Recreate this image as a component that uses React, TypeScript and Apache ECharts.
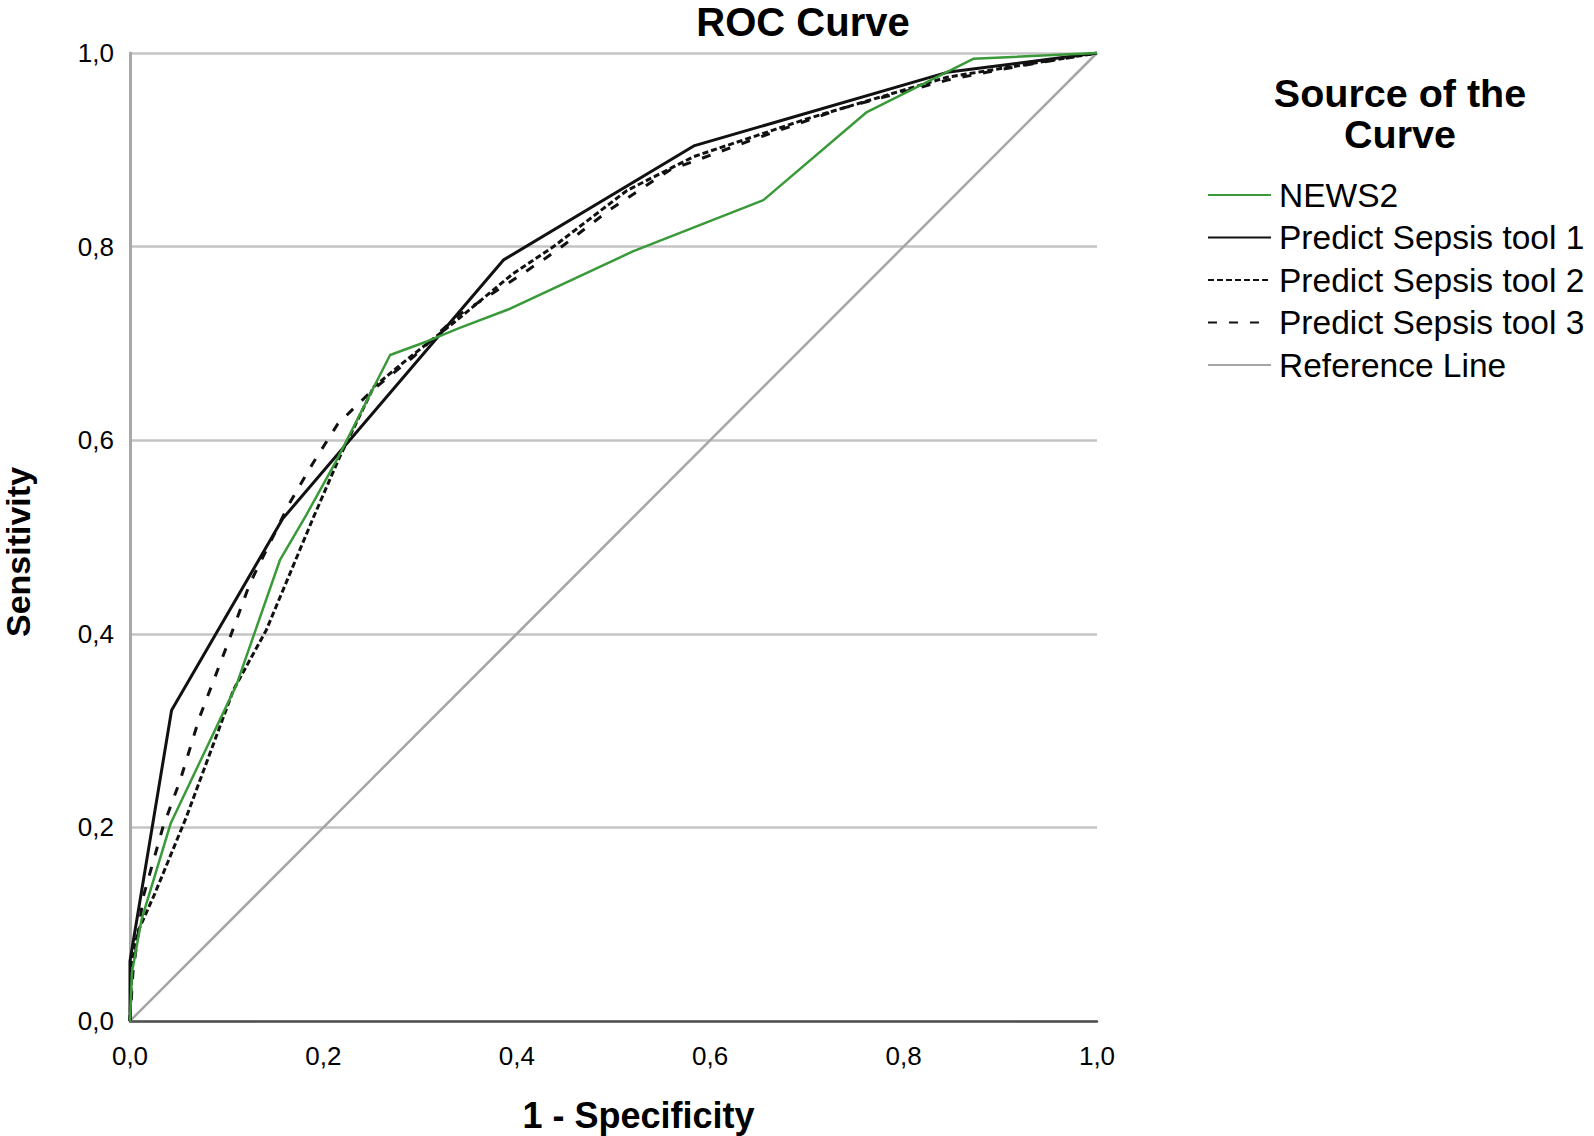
import React, { useEffect, useRef } from "react";
import * as echarts from "echarts";

const seriesNames = [
  "NEWS2",
  "Predict Sepsis tool 1",
  "Predict Sepsis tool 2",
  "Predict Sepsis tool 3",
  "Reference Line",
];

const axisTicks = [0, 0.2, 0.4, 0.6, 0.8, 1.0];

const news2: [number, number][] = [
  [0, 0], [0.002, 0.05], [0.012, 0.105], [0.042, 0.204], [0.110, 0.347],
  [0.155, 0.476], [0.183, 0.524], [0.214, 0.58], [0.269, 0.688], [0.307, 0.702],
  [0.341, 0.716], [0.391, 0.735], [0.52, 0.795], [0.655, 0.848], [0.762, 0.939],
  [0.872, 0.994], [1, 1],
];

const tool1: [number, number][] = [
  [0, 0], [0, 0.062], [0.043, 0.321], [0.158, 0.519], [0.386, 0.786],
  [0.583, 0.904], [0.845, 0.98], [1, 1],
];

const tool2: [number, number][] = [
  [0, 0], [0.002, 0.06], [0.008, 0.092], [0.025, 0.13], [0.058, 0.21],
  [0.107, 0.342], [0.141, 0.404], [0.19, 0.521], [0.217, 0.583], [0.252, 0.655],
  [0.286, 0.683], [0.338, 0.724], [0.396, 0.772], [0.438, 0.8], [0.514, 0.858],
  [0.583, 0.893], [0.7, 0.932], [0.845, 0.975], [1, 1],
];

const tool3: [number, number][] = [
  [0, 0], [0.003, 0.05], [0.0136, 0.128], [0.034, 0.2], [0.052, 0.249],
  [0.072, 0.314], [0.1, 0.387], [0.124, 0.452], [0.165, 0.535], [0.189, 0.576],
  [0.215, 0.617], [0.251, 0.652], [0.293, 0.686], [0.338, 0.728], [0.4, 0.768],
  [0.44, 0.795], [0.496, 0.838], [0.558, 0.879], [0.651, 0.913], [0.737, 0.943],
  [0.845, 0.972], [0.906, 0.984], [1, 1],
];

const referenceLine: [number, number][] = [
  [0, 0], [1, 1],
];

const legendHeading = ["Source of the", "Curve"];

const FONT = "'Liberation Sans', Arial, Helvetica, sans-serif";

const fmt = (v: number) => v.toFixed(1).replace(".", ",");

export default function App() {
  const ref = useRef<HTMLDivElement>(null);

  useEffect(() => {
    if (!ref.current) return;
    const chart = echarts.init(ref.current, undefined, { renderer: "svg" });

    const option: any = {
      animation: false,
      backgroundColor: "#ffffff",
      textStyle: { fontFamily: FONT },
      title: [
        {
          text: "ROC Curve",
          left: 803,
          top: 0,
          padding: 0,
          textAlign: "center",
          textStyle: { fontFamily: FONT, fontSize: 40, fontWeight: "bold", color: "#000", lineHeight: 44 },
        },
        {
          text: legendHeading[0],
          left: 1400,
          top: 72,
          padding: 0,
          textAlign: "center",
          textStyle: { fontFamily: FONT, fontSize: 39.5, fontWeight: "bold", color: "#000", lineHeight: 41 },
        },
        {
          text: legendHeading[1],
          left: 1400,
          top: 113,
          padding: 0,
          textAlign: "center",
          textStyle: { fontFamily: FONT, fontSize: 39.5, fontWeight: "bold", color: "#000", lineHeight: 41 },
        },
      ],
      legend: {
        orient: "vertical",
        left: 1207,
        top: 178,
        padding: 0,
        itemWidth: 63,
        itemHeight: 14,
        itemGap: 8.5,
        data: seriesNames,
        selectedMode: false,
        itemStyle: { opacity: 0 },
        textStyle: { fontFamily: FONT, fontSize: 33.5, color: "#000", lineHeight: 34, padding: [0, 0, 0, 3] },
      },
      grid: {
        left: 130,
        top: 53,
        width: 967,
        height: 968,
        containLabel: false,
        outerBoundsMode: "none",
      },
      xAxis: {
        type: "value",
        min: 0,
        max: 1,
        interval: 0.2,
        name: "1 - Specificity",
        nameLocation: "middle",
        nameGap: 76,
        nameTextStyle: { fontFamily: FONT, fontSize: 36, fontWeight: "bold", color: "#000", padding: [0, 0, 0, 50] },
        axisLine: { show: true, lineStyle: { color: "#505050", width: 2.5 } },
        axisTick: { show: false },
        splitLine: { show: false },
        axisLabel: {
          fontFamily: FONT,
          fontSize: 26,
          color: "#000",
          margin: 22,
          formatter: (v: number) => fmt(v),
          customValues: axisTicks,
        },
      },
      yAxis: {
        type: "value",
        min: 0,
        max: 1,
        interval: 0.2,
        name: "Sensitivity",
        nameLocation: "middle",
        nameGap: 95,
        nameTextStyle: { fontFamily: FONT, fontSize: 34, fontWeight: "bold", color: "#000", padding: [0, 30, 0, 0] },
        axisLine: { show: true, lineStyle: { color: "#a8a8a8", width: 3 } },
        axisTick: { show: false },
        splitLine: { show: true, lineStyle: { color: "#c4c4c4", width: 2.5 } },
        axisLabel: {
          fontFamily: FONT,
          fontSize: 26,
          color: "#000",
          margin: 16,
          formatter: (v: number) => fmt(v),
        },
      },
      series: [
        {
          name: seriesNames[0],
          type: "line",
          data: news2,
          symbol: "none",
          z: 5,
          lineStyle: { color: "#3a9a3a", width: 2.5, type: "solid" },
          itemStyle: { color: "#3a9a3a" },
        },
        {
          name: seriesNames[1],
          type: "line",
          data: tool1,
          symbol: "none",
          z: 4,
          lineStyle: { color: "#111", width: 3, type: "solid" },
          itemStyle: { color: "#111" },
        },
        {
          name: seriesNames[2],
          type: "line",
          data: tool2,
          symbol: "none",
          z: 4,
          lineStyle: { color: "#111", width: 3, type: [6, 3] },
          itemStyle: { color: "#111" },
        },
        {
          name: seriesNames[3],
          type: "line",
          data: tool3,
          symbol: "none",
          z: 4,
          lineStyle: { color: "#111", width: 3, type: [9, 12] },
          itemStyle: { color: "#111" },
        },
        {
          name: seriesNames[4],
          type: "line",
          data: referenceLine,
          symbol: "none",
          z: 3,
          lineStyle: { color: "#a6a6a6", width: 2.5, type: "solid" },
          itemStyle: { color: "#a6a6a6" },
        },
      ],
    };

    chart.setOption(option);
    return () => chart.dispose();
  }, []);

  return <div ref={ref} style={{ width: 1594, height: 1136, position: "absolute", left: 0, top: 0 }} />;
}
